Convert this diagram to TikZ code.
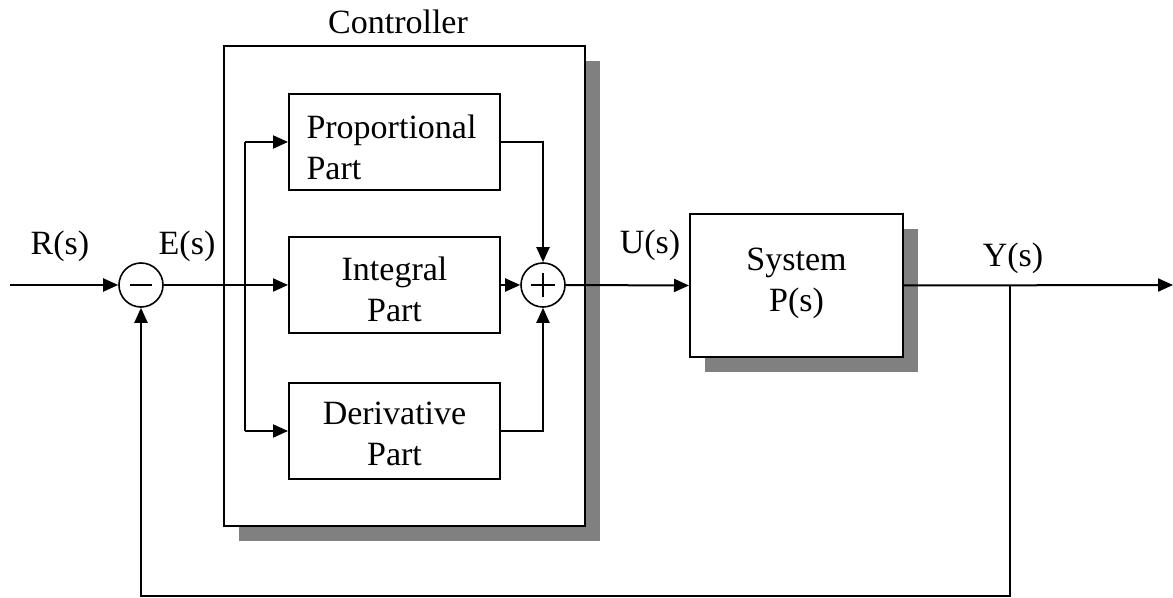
\documentclass[tikz,border=0pt]{standalone}
\usepackage{fontspec}
\setmainfont{Liberation Serif}
\usetikzlibrary{arrows.meta,shadows}
% shift a block's text vertically while keeping its nominal size
\newcommand{\shifttext}[2]{\raisebox{#1}[\height][\depth]{#2}}
\begin{document}
\begin{tikzpicture}[x=0.5pt,y=-0.5pt,
  every node/.style={font=\fontsize{17}{20.5}\selectfont},
  wire/.style={line width=1pt},
  arr/.style={wire,-{Triangle[length=7.5pt,width=6.5pt]}},
  block/.style={draw,line width=1pt,fill=white,inner sep=0pt},
  shade/.style={drop shadow={shadow xshift=7.5pt,shadow yshift=-7.5pt,fill=black!50,opacity=1}},
  sum/.style={draw,circle,line width=0.8pt,minimum size=22pt,inner sep=0pt,fill=white},
  lbl/.style={inner sep=0pt}
]
\useasboundingbox (0,0) rectangle (1173,598);

% controller frame with its shadow
\node[block,shade,minimum width=180.5pt,minimum height=240pt] (ctrl) at (404.5,286) {};
\node[lbl] (ctrltxt) at (398,22) {Controller};

% the three parallel parts (text sits slightly below the box centre)
\node[block,minimum width=105.5pt,minimum height=48pt] (prop) at (394.5,142)
  {\shifttext{-2.5pt}{\parbox{88pt}{Proportional\\Part}}};
\node[block,minimum width=105.5pt,minimum height=48pt] (int) at (394.5,285)
  {\shifttext{-2pt}{\parbox{88pt}{\centering Integral\\Part}}};
\node[block,minimum width=105.5pt,minimum height=48pt] (der) at (394.5,431)
  {\shifttext{-1.5pt}{\parbox{88pt}{\centering Derivative\\Part}}};

% plant with its shadow
\node[block,shade,minimum width=106.5pt,minimum height=71.5pt] (sys) at (796.5,285.5)
  {\shifttext{1pt}{\parbox{88pt}{\centering System\\P(s)}}};

% summing junctions
\node[sum] (m) at (141,285) {};
\draw[line width=0.8pt] ([xshift=-5.5pt]m.center) -- ([xshift=5.5pt]m.center);
\node[sum] (p) at (543,285) {};
\draw[line width=0.8pt] ([xshift=-6pt]p.center) -- ([xshift=6pt]p.center);
\draw[line width=0.8pt] ([yshift=-6pt]p.center) -- ([yshift=6pt]p.center);

% signal labels
\node[lbl] (rl) at (60,246) {R(s)};
\node[lbl] (el) at (187,246) {E(s)};
\node[lbl] (ul) at (650,245) {U(s)};
\node[lbl] (yl) at (1013,258) {Y(s)};

% reference points of the loop
\coordinate (in) at (10,285);
\coordinate (b) at (245,285);
\coordinate (out) at (1173,285);
\coordinate (y) at (1010,285);
\coordinate (fb) at (1010,596);

% signal flow
\draw[arr] (in) -- (m.west);
\draw[arr] (m.east) -- (int.west);
\draw[wire] (b |- prop.west) -- (b |- der.west);
\draw[arr] (b |- prop.west) -- (prop.west);
\draw[arr] (b |- der.west) -- (der.west);
\draw[arr] (prop.east) -| (p.north);
\draw[arr] (der.east) -| (p.south);
\draw[arr] (int.east) -- (p.west);
\draw[arr] (p.east) -- (sys.west);
\draw[arr] (sys.east) -- (out);
\draw[arr] (y) -- (fb) -| (m.south);
\end{tikzpicture}
\end{document}
